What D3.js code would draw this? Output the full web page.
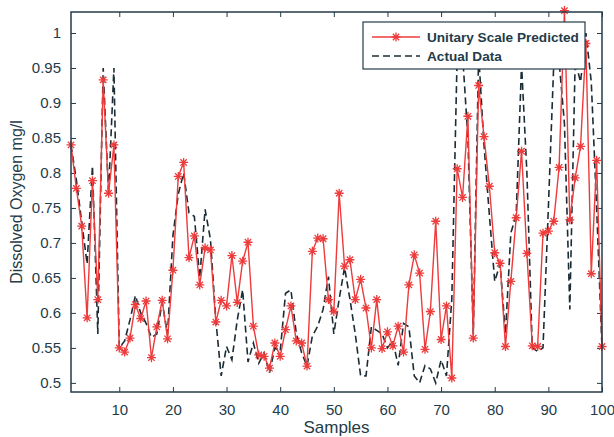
<!DOCTYPE html>
<html>
<head>
<meta charset="utf-8">
<script src="https://cdn.jsdelivr.net/npm/d3@7"></script>
<style>
  body { margin: 0; background: #fff; }
  svg { display: block; font-family: "Liberation Sans", Arial, sans-serif; }
</style>
</head>
<body>
<div id="chart"></div>
<script>
// sample index 1..100
var samples = d3.range(1, 101);

// predicted series (red, star markers)
var predicted = [
  0.840, 0.778, 0.724, 0.593, 0.789, 0.619, 0.933, 0.771, 0.840, 0.550,
  0.544, 0.564, 0.612, 0.592, 0.617, 0.536, 0.580, 0.618, 0.563, 0.661,
  0.795, 0.815, 0.679, 0.710, 0.640, 0.693, 0.690, 0.587, 0.618, 0.610,
  0.682, 0.615, 0.674, 0.701, 0.581, 0.540, 0.538, 0.521, 0.557, 0.538,
  0.576, 0.610, 0.560, 0.557, 0.524, 0.688, 0.707, 0.706, 0.619, 0.602,
  0.771, 0.667, 0.676, 0.619, 0.648, 0.607, 0.550, 0.619, 0.549, 0.573,
  0.553, 0.581, 0.544, 0.640, 0.683, 0.657, 0.548, 0.602, 0.731, 0.562,
  0.610, 0.507, 0.806, 0.765, 0.881, 0.564, 0.925, 0.852, 0.781, 0.686,
  0.671, 0.552, 0.645, 0.736, 0.831, 0.685, 0.553, 0.552, 0.714, 0.717,
  0.731, 0.808, 1.032, 0.733, 0.793, 0.838, 0.985, 0.656, 0.818, 0.552
];

// measured series (dashed)
var actual = [
  0.840, 0.790, 0.730, 0.670, 0.810, 0.570, 0.950, 0.770, 0.950, 0.550,
  0.560, 0.590, 0.625, 0.600, 0.585, 0.565, 0.570, 0.615, 0.570, 0.710,
  0.770, 0.800, 0.743, 0.738, 0.650, 0.748, 0.705, 0.590, 0.510, 0.552,
  0.533, 0.590, 0.633, 0.530, 0.557, 0.528, 0.543, 0.514, 0.550, 0.545,
  0.628, 0.633, 0.571, 0.543, 0.524, 0.567, 0.581, 0.605, 0.652, 0.570,
  0.620, 0.665, 0.620, 0.570, 0.510, 0.510, 0.580, 0.575, 0.570, 0.550,
  0.560, 0.525, 0.585, 0.580, 0.510, 0.500, 0.525, 0.520, 0.500, 0.533,
  0.510, 0.620, 0.970, 0.970, 0.850, 0.570, 0.970, 0.840, 0.740, 0.645,
  0.670, 0.570, 0.714, 0.740, 0.955, 0.800, 0.550, 0.545, 0.550, 0.750,
  0.955, 0.960, 0.870, 0.605, 0.960, 0.930, 1.000, 0.930, 0.750, 0.550
];

var xTicks = [10, 20, 30, 40, 50, 60, 70, 80, 90, 100];
var yTicks = [0.5, 0.55, 0.6, 0.65, 0.7, 0.75, 0.8, 0.85, 0.9, 0.95, 1];
var legendNames = ["Unitary Scale Predicted", "Actual Data"];

var width = 614, height = 437;
var margin = {left: 71, right: 12, top: 12, bottom: 45};
var axisColor = "#243b48";
var red = "#ee3b3b";

var svg = d3.select("#chart").append("svg")
  .attr("width", width)
  .attr("height", height);

var x = d3.scaleLinear().domain([1, 100]).range([margin.left, width - margin.right]);
var y = d3.scaleLinear().domain([0.487, 1.03]).range([height - margin.bottom, margin.top]);

// inward ticks on all four sides, matlab style
var tl = 5;
svg.append("g")
  .attr("transform", "translate(0," + y.range()[0] + ")")
  .call(d3.axisBottom(x).tickValues(xTicks).tickSize(-tl).tickPadding(12).tickFormat(d3.format("d")))
  .call(function(g){ g.select(".domain").remove(); });
svg.append("g")
  .attr("transform", "translate(0," + y.range()[1] + ")")
  .call(d3.axisTop(x).tickValues(xTicks).tickSize(-tl).tickFormat(""))
  .call(function(g){ g.select(".domain").remove(); });
svg.append("g")
  .attr("transform", "translate(" + x.range()[0] + ",0)")
  .call(d3.axisLeft(y).tickValues(yTicks).tickSize(-tl).tickPadding(10).tickFormat(d3.format("")))
  .call(function(g){ g.select(".domain").remove(); });
svg.append("g")
  .attr("transform", "translate(" + x.range()[1] + ",0)")
  .call(d3.axisRight(y).tickValues(yTicks).tickSize(-tl).tickFormat(""))
  .call(function(g){ g.select(".domain").remove(); });

svg.selectAll(".tick line").attr("stroke", axisColor);
svg.selectAll(".tick text")
  .attr("fill", axisColor)
  .attr("font-size", 15)
  .attr("font-family", "Liberation Sans, Arial, sans-serif");

// data lines
var actualLine = d3.line().x(function(d, i){ return x(samples[i]); }).y(function(d){ return y(d); });

svg.append("path")
  .datum(actual)
  .attr("fill", "none")
  .attr("stroke", "#1b2c35")
  .attr("stroke-width", 1.6)
  .attr("stroke-dasharray", "7,4")
  .attr("d", actualLine);

svg.append("path")
  .datum(predicted)
  .attr("fill", "none")
  .attr("stroke", red)
  .attr("stroke-width", 1.4)
  .attr("d", actualLine);

// asterisk marker
function star(r){
  var d = r * Math.SQRT1_2;
  return "M" + (-r) + ",0L" + r + ",0M0," + (-r) + "L0," + r +
    "M" + (-d) + "," + (-d) + "L" + d + "," + d +
    "M" + (-d) + "," + d + "L" + d + "," + (-d);
}

svg.selectAll(".mark")
  .data(predicted)
  .enter().append("path")
  .attr("class", "mark")
  .attr("transform", function(d, i){ return "translate(" + x(samples[i]) + "," + y(d) + ")"; })
  .attr("d", star(4.5))
  .attr("stroke", red)
  .attr("stroke-width", 1.3)
  .attr("fill", "none");

// axes box
svg.append("rect")
  .attr("x", x.range()[0])
  .attr("y", y.range()[1])
  .attr("width", x.range()[1] - x.range()[0])
  .attr("height", y.range()[0] - y.range()[1])
  .attr("fill", "none")
  .attr("stroke", axisColor)
  .attr("stroke-width", 1.5);

// legend
var lg = svg.append("g").attr("transform", "translate(363,22)");
lg.append("rect")
  .attr("width", 222).attr("height", 47)
  .attr("fill", "#fff")
  .attr("stroke", axisColor)
  .attr("stroke-width", 1.2);
lg.append("line").attr("x1", 9).attr("x2", 57).attr("y1", 15).attr("y2", 15)
  .attr("stroke", red).attr("stroke-width", 1.4);
lg.append("path").attr("transform", "translate(33,15)").attr("d", star(4.5))
  .attr("stroke", red).attr("stroke-width", 1.3);
lg.append("line").attr("x1", 9).attr("x2", 57).attr("y1", 34).attr("y2", 34)
  .attr("stroke", "#1b2c35").attr("stroke-width", 1.6).attr("stroke-dasharray", "7,4");
lg.selectAll("text")
  .data(legendNames)
  .enter().append("text")
  .attr("x", 64)
  .attr("y", function(d, i){ return 20 + i * 19; })
  .attr("font-size", 13.6)
  .attr("font-weight", "bold")
  .attr("fill", axisColor)
  .text(function(d){ return d; });

// axis titles
svg.append("text")
  .attr("x", (x.range()[0] + x.range()[1]) / 2)
  .attr("y", 433)
  .attr("text-anchor", "middle")
  .attr("font-size", 17)
  .attr("fill", axisColor)
  .text("Samples");

svg.append("text")
  .attr("transform", "translate(22,202) rotate(-90)")
  .attr("text-anchor", "middle")
  .attr("font-size", 16)
  .attr("fill", axisColor)
  .text("Dissolved Oxygen mg/l");
</script>
</body>
</html>
